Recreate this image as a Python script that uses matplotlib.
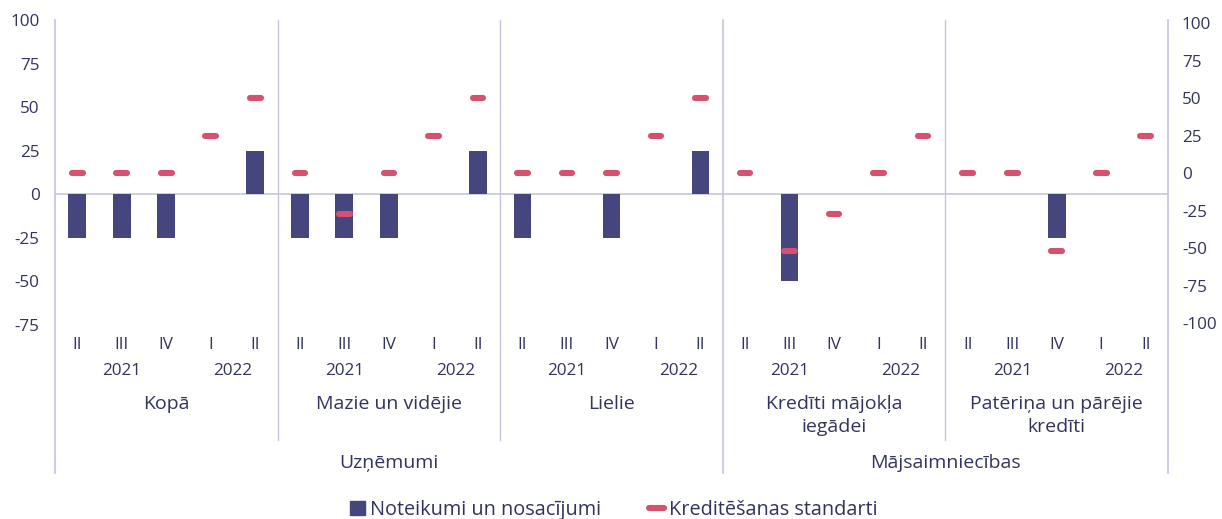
import matplotlib
matplotlib.use("Agg")
import matplotlib.pyplot as plt
from matplotlib.transforms import blended_transform_factory
from matplotlib.lines import Line2D
from matplotlib.patches import Patch
import numpy as np

plt.rcParams['font.family'] = ['Open Sans', 'DejaVu Sans']
plt.rcParams['axes.unicode_minus'] = False

groups = ["Kopā", "Mazie un vidējie", "Lielie", "Kredīti mājokļa\niegādei", "Patēriņa un pārējie\nkredīti"]
top_groups = ["Uzņēmumi", "Mājsaimniecības"]
top_group_sizes = [3, 2]
quarters = ["II", "III", "IV", "I", "II"]
years = ["2021", "2022"]

noteikumi = [
    -25, -25, -25, 0, 25,
    -25, -25, -25, 0, 25,
    -25, 0, -25, 0, 25,
    0, -50, 0, 0, 0,
    0, 0, -25, 0, 0,
]
standarti = [
    0, 0, 0, 25, 50,
    0, -27, 0, 25, 50,
    0, 0, 0, 25, 50,
    0, -52, -27, 0, 25,
    0, 0, -52, 0, 25,
]

BAR = "#45467e"
DASH = "#d6506f"
TXT = "#33335f"
GRID = "#c4c4de"

W, H = 1222, 519
fig = plt.figure(figsize=(W / 100, H / 100), dpi=100)
ax = fig.add_axes([55 / W, 1 - 340 / H, (1168 - 55) / W, (340 - 20) / H])
ax2 = ax.twinx()

n = len(noteikumi)
x = np.arange(n)
ax.bar(x, noteikumi, width=0.4, color=BAR, linewidth=0, zorder=3)
ax.set_xlim(-0.5, n - 0.5)
ax.set_ylim(-83.6, 100)
ax.set_yticks([100, 75, 50, 25, 0, -25, -50, -75])
ax.axhline(0, color=GRID, lw=1.2, zorder=2)

hw = 0.12
ax2.hlines(standarti, x - hw, x + hw, colors=DASH, linewidth=4.4, capstyle='round', zorder=4)
ax2.set_ylim(-111, 102)
ax2.set_yticks([100, 75, 50, 25, 0, -25, -50, -75, -100])
ax2.set_xlim(-0.5, n - 0.5)

for a in (ax, ax2):
    for s in ("top", "bottom", "left", "right"):
        a.spines[s].set_visible(False)
    a.tick_params(axis="y", length=0, labelsize=12.3, labelcolor=TXT)
ax.tick_params(axis="y", pad=11)
ax2.tick_params(axis="y", pad=10)

ax.set_xticks(x, labels=quarters * len(groups))
ax.tick_params(axis="x", length=0, labelsize=12.3, labelcolor=TXT, pad=-2)

tr = blended_transform_factory(ax.transData, fig.transFigure)

def fy(py):
    return 1 - py / H

for g in range(len(groups)):
    base = g * 5
    ax.text(base + 1, fy(371), years[0], transform=tr, ha="center", va="center", fontsize=12.3, color=TXT)
    ax.text(base + 3.5, fy(371), years[1], transform=tr, ha="center", va="center", fontsize=12.3, color=TXT)
    if "\n" in groups[g]:
        ax.text(base + 2, fy(415.5), groups[g], transform=tr, ha="center", va="center", fontsize=14, color=TXT,
                linespacing=1.3)
    else:
        ax.text(base + 2, fy(404), groups[g], transform=tr, ha="center", va="center", fontsize=14, color=TXT)

start = 0
for name, size in zip(top_groups, top_group_sizes):
    ax.text(start + size * 5 / 2 - 0.5, fy(463), name, transform=tr, ha="center", va="center", fontsize=14, color=TXT)
    start += size * 5

outer = [-0.5, 14.5, 24.5]
inner = [4.5, 9.5, 19.5]
for xv in outer:
    ax.add_line(Line2D([xv, xv], [fy(20), fy(473)], transform=tr, color=GRID, lw=1.2, clip_on=False, zorder=1))
for xv in inner:
    ax.add_line(Line2D([xv, xv], [fy(20), fy(440)], transform=tr, color=GRID, lw=1.0, clip_on=False, zorder=1))

handles = [
    Patch(facecolor=BAR, edgecolor=BAR),
    Line2D([0.15, 0.85], [0.5, 0.5], color=DASH, lw=4.4, solid_capstyle='round'),
]
fig.legend(handles, ["Noteikumi un nosacījumi", "Kreditēšanas standarti"], loc="center",
           bbox_to_anchor=(614 / W, fy(510)), ncol=2, frameon=False, fontsize=14.3,
           labelcolor=TXT, handlelength=0.75, handletextpad=0.25, columnspacing=2.4,
           handleheight=0.75)

fig.savefig("out.png", dpi=100)
